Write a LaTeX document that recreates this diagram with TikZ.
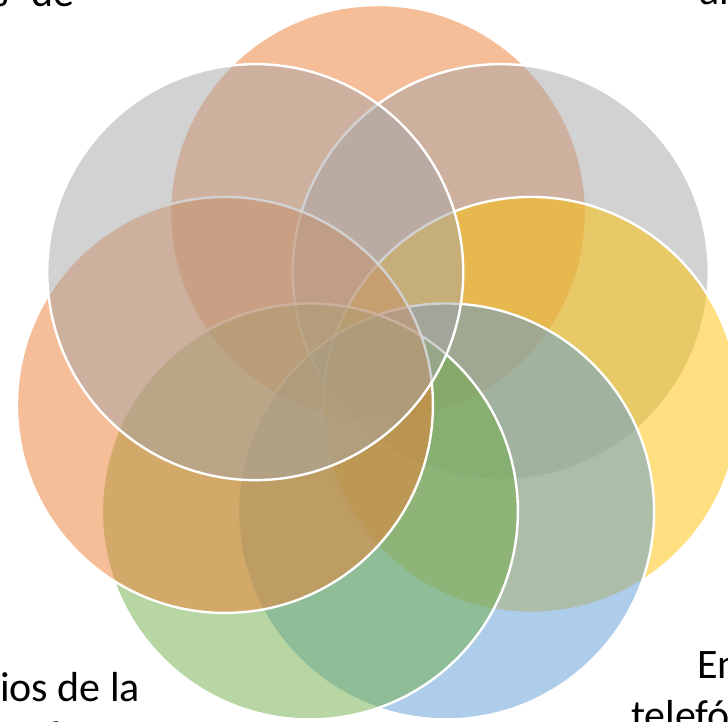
\documentclass[tikz,border=0pt]{standalone}
\usepackage{fontspec}
\setmainfont{Carlito}
\usetikzlibrary{calc}
\definecolor{corange}{HTML}{ED7D31}
\definecolor{cgray}{HTML}{A5A5A5}
\definecolor{cyellow}{HTML}{FFC000}
\definecolor{cblue}{HTML}{5B9BD5}
\definecolor{cgreen}{HTML}{70AD47}
\newcommand\mylblfont{\fontsize{42}{46}\selectfont}
\begin{document}
\begin{tikzpicture}[x=1pt,y=-1pt,
  venn/.style={draw=white, line width=2.4pt, fill opacity=0.5},
  lbl/.style={font=\mylblfont, inner sep=0pt, anchor=base west, text=black}]
\useasboundingbox (0,0) rectangle (728,721);
\clip (0,0) rectangle (728,721);
\coordinate (O) at (378,370);
\foreach \k/\c in {0/corange,1/cgray,2/cyellow,3/cblue,4/cgreen,5/corange,6/cgray}{
  \coordinate (c\k) at ($(O)+(-90+\k*51.428571:157)$);
  \draw[venn, fill=\c] (c\k) circle[radius=208];
}
\node[lbl] (tl) at (-8,6) {s\hspace{13pt} de};
\node[lbl] (tr) at (699,4) {al};
\node[lbl] (bl) at (0,701) {ios de la};
\node[lbl] (bl2) at (46,750) {f};
\node[lbl] (br) at (697,678) {En};
\node[lbl] (br2) at (631,729) {telefó};
\end{tikzpicture}
\end{document}
